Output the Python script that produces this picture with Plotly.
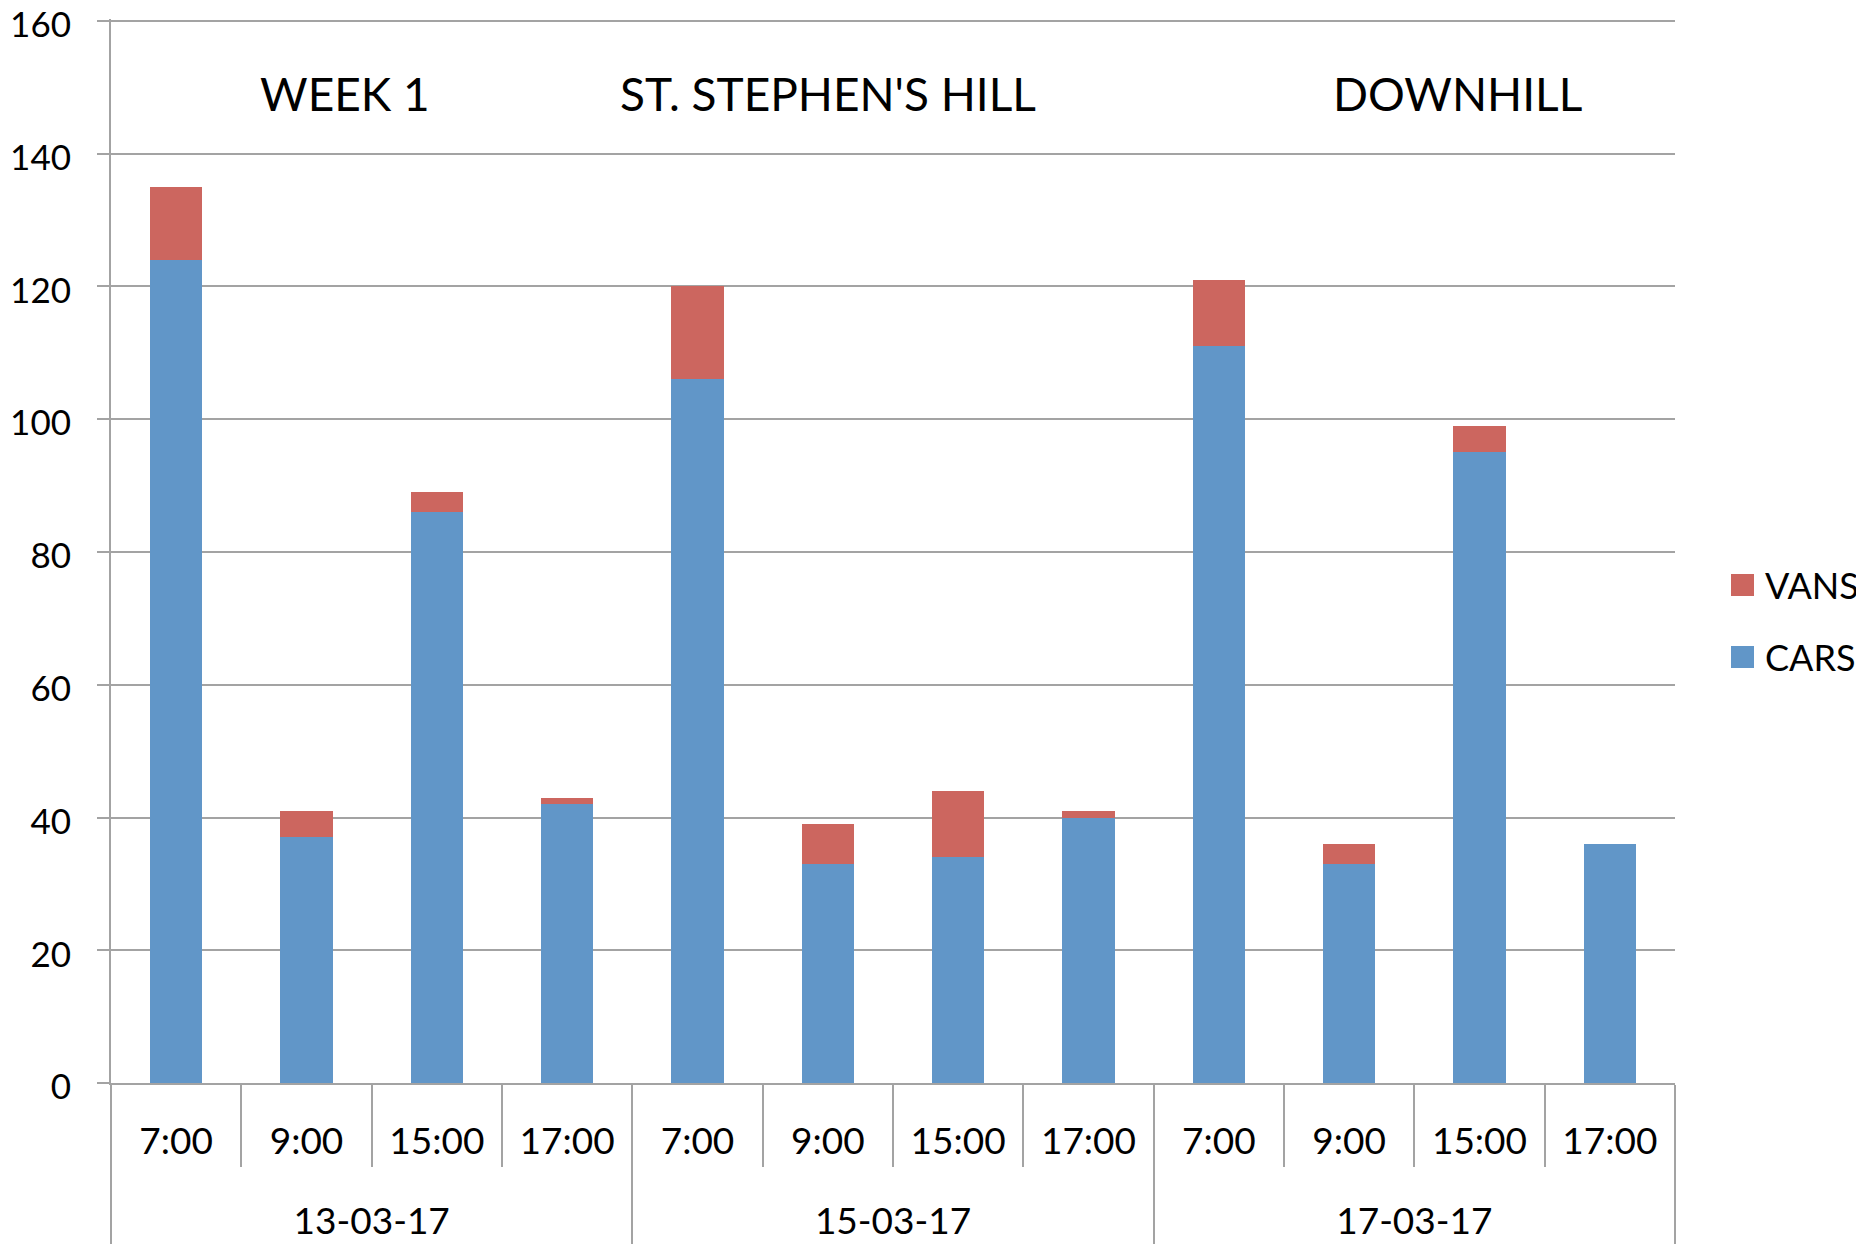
import plotly.graph_objects as go

# ---- data ----
dates = ["13-03-17", "15-03-17", "17-03-17"]
times = ["7:00", "9:00", "15:00", "17:00"]
cars = [124, 37, 86, 42, 106, 33, 34, 40, 111, 33, 95, 36]
vans = [11, 4, 3, 1, 14, 6, 10, 1, 10, 3, 4, 0]
titles = ["WEEK 1", "ST. STEPHEN'S HILL", "DOWNHILL"]
y_ticks = [0, 20, 40, 60, 80, 100, 120, 140, 160]

level1 = [d for d in dates for _ in times]
# trailing (tall) blank line gives the inner label row the reference's height
level2 = [t + "<br><span style='font-size:86px'> </span>" for _ in dates for t in times]

CAR_C = "#6196C8"
VAN_C = "#CC665F"
GRID = "#A3A3A3"
FONT = "Lato"

OFF = 8  # page body margin
W, H = 1864 - OFF, 1248 - OFF
L, R, T, B = 103, 189, 11, 165
pw, ph = W - L - R, H - T - B

def px(x):
    return (x - OFF - L) / pw

def py(y):
    return (H - B - (y - OFF)) / ph

fig = go.Figure()
fig.add_trace(go.Bar(x=[level1, level2], y=cars, name="CARS",
                     marker=dict(color=CAR_C, line=dict(width=0))))
fig.add_trace(go.Bar(x=[level1, level2], y=vans, name="VANS",
                     marker=dict(color=VAN_C, line=dict(width=0))))

ann = []
for t, cx in zip(titles, [345, 828, 1457]):
    ann.append(dict(text=t, x=px(cx), y=py(94), xref="paper", yref="paper",
                    showarrow=False, xanchor="center", yanchor="middle",
                    font=dict(family=FONT, size=46, color="#000")))

shapes = []
for name, col, cy in [("VANS", VAN_C, 585), ("CARS", CAR_C, 657)]:
    shapes.append(dict(type="rect", xref="paper", yref="paper",
                       x0=px(1731), x1=px(1754), y0=py(cy + 11), y1=py(cy - 11),
                       fillcolor=col, line=dict(width=0)))
    ann.append(dict(text=name, x=px(1763), y=py(cy), xref="paper", yref="paper",
                    showarrow=False, xanchor="left", yanchor="middle",
                    font=dict(family=FONT, size=36, color="#000")))

fig.update_layout(
    barmode="stack", bargap=0.6,
    width=W, height=H,
    margin=dict(l=L, r=R, t=T, b=B, autoexpand=False),
    paper_bgcolor="white", plot_bgcolor="white",
    showlegend=False,
    font=dict(family=FONT, size=37, color="#000"),
    annotations=ann, shapes=shapes,
)
fig.update_yaxes(range=[0, 160.3], tickvals=y_ticks, showgrid=True,
                 gridcolor=GRID, gridwidth=2, zeroline=False,
                 showline=True, linecolor=GRID, linewidth=2,
                 ticks="outside", ticklen=12, tickcolor=GRID, tickwidth=2,
                 ticklabelstandoff=19, ticklabelshift=4, automargin=False,
                 ticklabeloverflow="allow",
                 tickfont=dict(family=FONT, size=35, color="#000"))
fig.update_xaxes(type="multicategory", showline=True, linecolor=GRID, linewidth=2,
                 ticks="outside", tickson="boundaries", ticklen=82,
                 tickcolor=GRID, tickwidth=2, automargin=False,
                 showdividers=True, dividercolor=GRID, dividerwidth=2,
                 ticklabelstandoff=25,
                 tickfont=dict(family=FONT, size=37, color="#000"))

fig.write_html("out.html")
